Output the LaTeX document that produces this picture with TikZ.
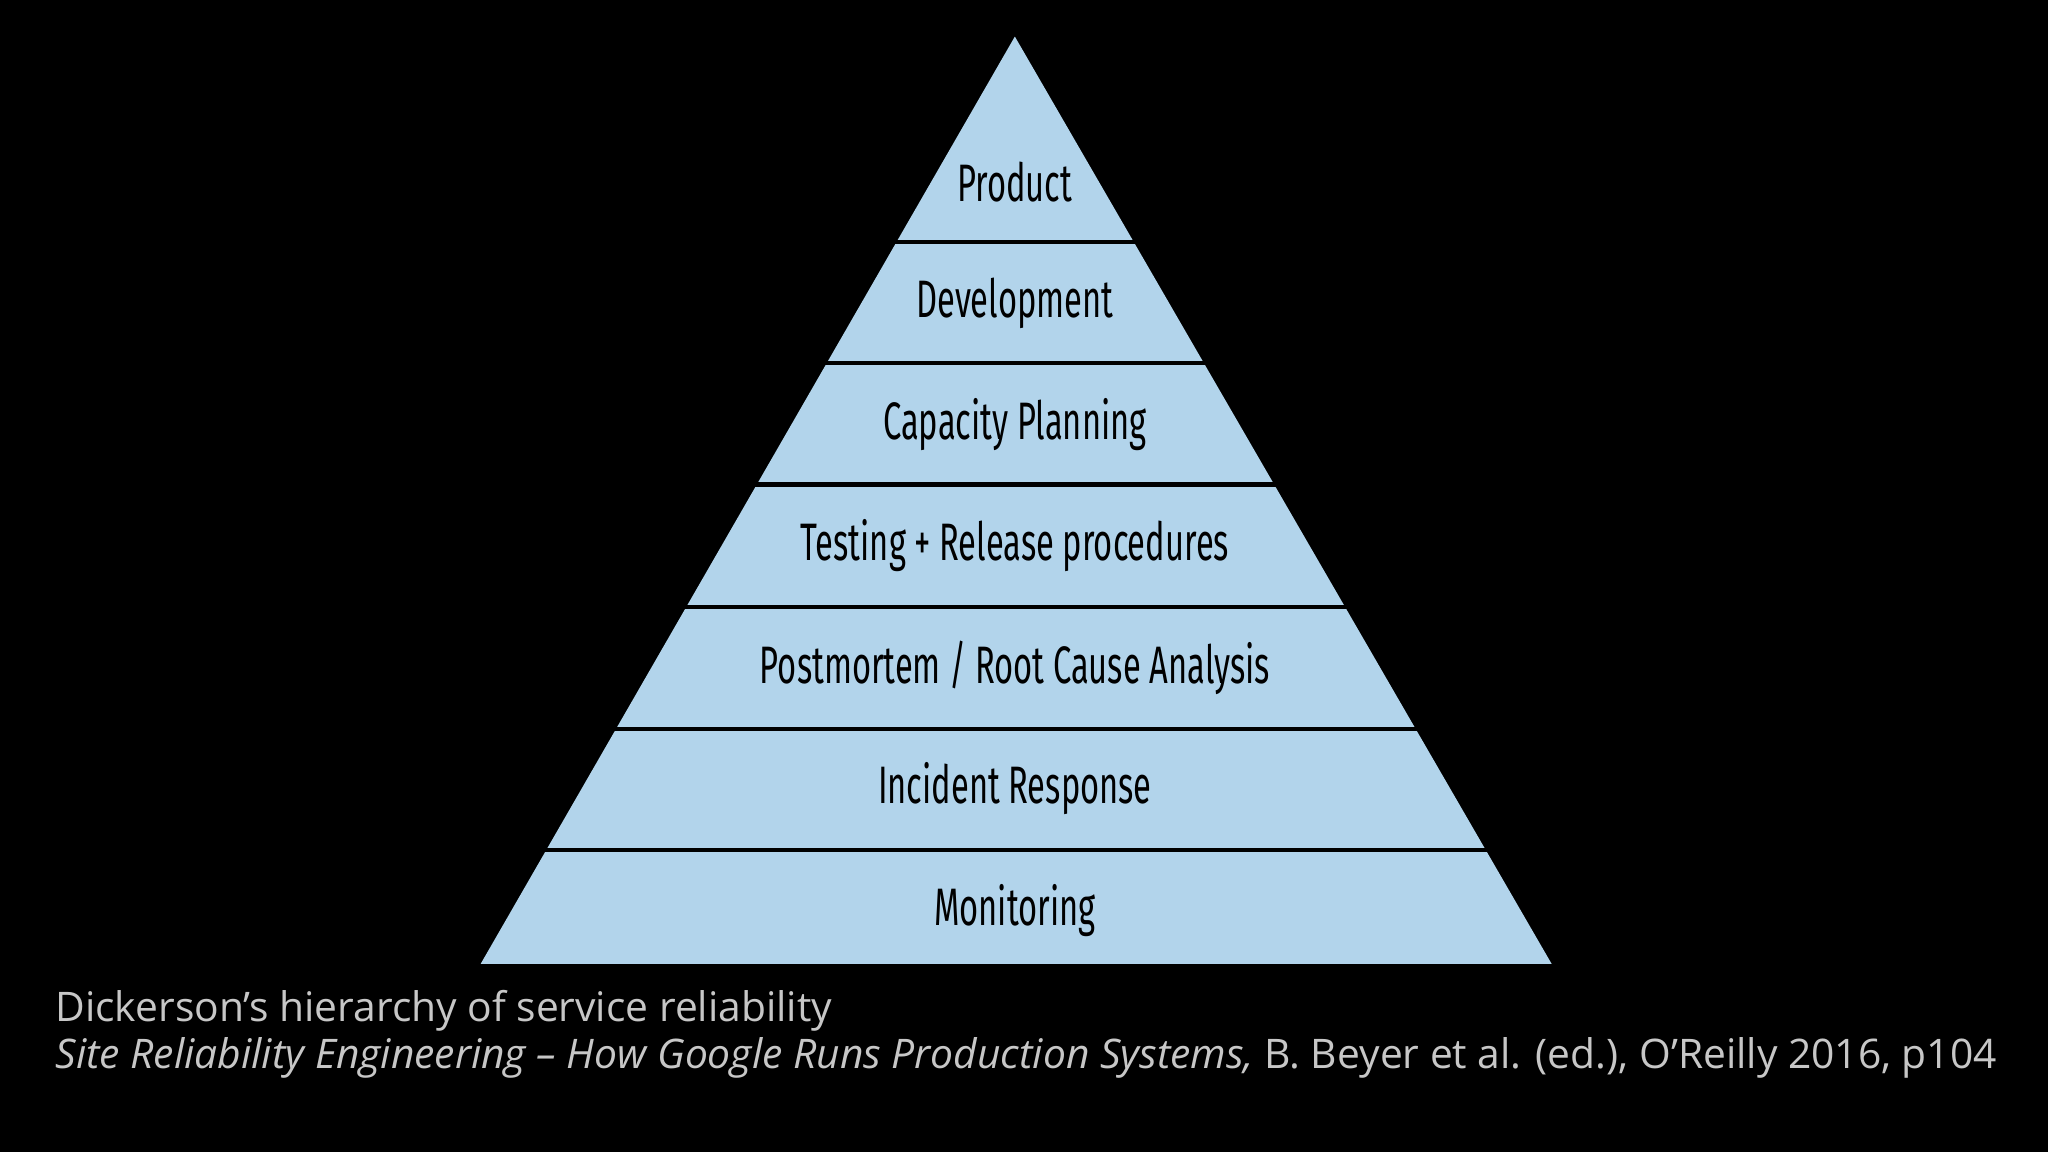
\documentclass[tikz,border=0pt]{standalone}
\usepackage{fontspec}
\setmainfont{Open Sans}
\newfontfamily\pyrfont[FakeStretch=0.62]{Fira Sans}
\begin{document}
\begin{tikzpicture}[x=0.013061cm,y=-0.013061cm,
  band/.style={font=\pyrfont\fontsize{15}{18}\selectfont, text=black, anchor=center},
  sep/.style={draw=black, line width=1.2pt},
  captxt/.style={font=\fontsize{11.6}{14}\selectfont, text=black!22, anchor=west}]
\fill[black] (0,0) rectangle (1568,882);
\useasboundingbox (0,0) rectangle (1568,882);
\fill[fill={rgb,255:red,178;green,212;blue,235}] (777,28) -- (1188,738) -- (368,738) -- cycle;
\foreach \y in {185,278,371,465,558,651}{
  \pgfmathsetmacro\dx{(\y-28)/710*410}
  \draw[sep] (777-\dx-2,\y) -- (777+\dx+2,\y);
}
\node[band] (p1) at (777,139) {Product};
\node[band] (p2) at (777,232) {Development};
\node[band] (p3) at (777,325) {Capacity Planning};
\node[band] (p4) at (777,418) {Testing + Release procedures};
\node[band] (p5) at (777,511) {Postmortem / Root Cause Analysis};
\node[band] (p6) at (777,604) {Incident Response};
\node[band] (p7) at (777,697) {Monitoring};
\node[captxt] (c1) at (33,774) {Dickerson’s hierarchy of service reliability};
\node[captxt] (c2) at (33,810) {\textit{Site Reliability Engineering – How Google Runs Production Systems,} B. Beyer et al. (ed.), O’Reilly 2016, p104};
\end{tikzpicture}
\end{document}
